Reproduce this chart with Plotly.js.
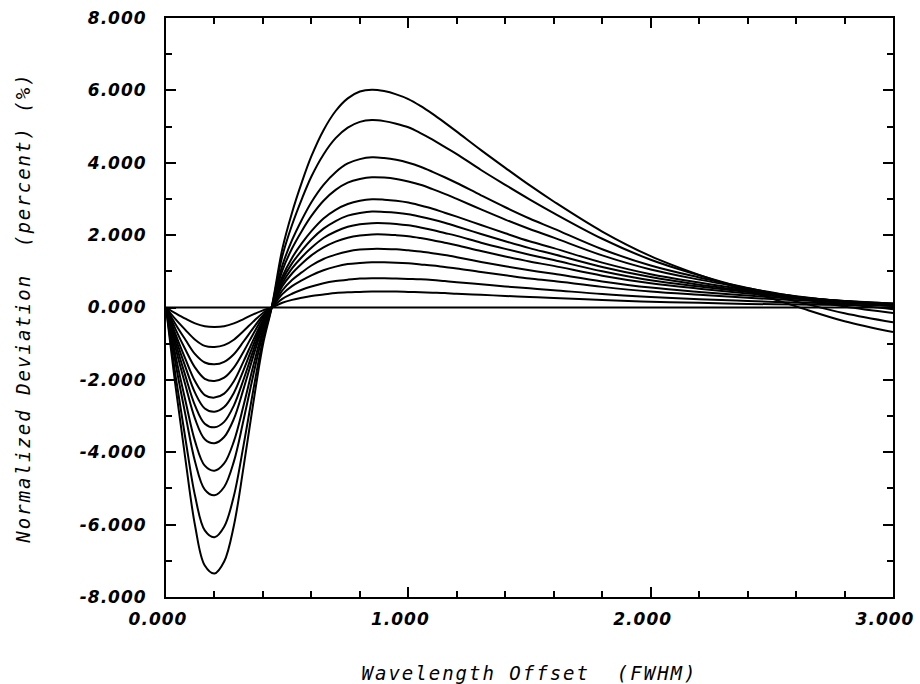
<!DOCTYPE html>
<html>
<head>
<meta charset="utf-8">
<script src="https://cdn.plot.ly/plotly-3.0.1.min.js"></script>
<style>
  html, body { margin: 0; padding: 0; background: #fff; }
  #chart { width: 920px; height: 684px; }
  .xtitle, .ytitle { letter-spacing: 2px; }
  .xtick text, .ytick text { letter-spacing: 1px; }
</style>
</head>
<body>
<div id="chart"></div>
<script>
// Wavelength offset sample positions (FWHM)
const xOffset = [0, 0.04, 0.08, 0.12, 0.16, 0.2, 0.24, 0.28, 0.32, 0.36, 0.40, 0.436,
  0.48, 0.52, 0.56, 0.60, 0.65, 0.70, 0.75, 0.80, 0.85, 0.90, 0.95, 1.0, 1.05, 1.1, 1.15, 1.2, 1.3, 1.4, 1.5, 1.6, 1.8, 2.0, 2.2, 2.4, 2.6, 2.8, 3.0];

// Normalized deviation (percent) for each curve
const curve0 = [0, 0, 0, 0, 0, 0, 0, 0, 0, 0, 0, 0,
  0, 0, 0, 0, 0, 0, 0, 0, 0, 0, 0, 0, 0, 0, 0, 0, 0, 0, 0, 0, 0, 0, 0, 0, 0, 0, 0];
const curve1 = [0, -2.21, -4.19, -6.03, -7.13, -7.35, -7.02, -6.03, -4.41, -2.65, -1.03, 0,
  1.62, 2.62, 3.45, 4.18, 4.90, 5.43, 5.78, 5.97, 6.02, 5.98, 5.89, 5.76, 5.57, 5.35, 5.11, 4.86, 4.35, 3.86, 3.38, 2.93, 2.10, 1.42, 0.90, 0.46, 0.03, -0.38, -0.68];
const curve2 = [0, -1.91, -3.62, -5.21, -6.16, -6.35, -6.06, -5.21, -3.81, -2.29, -0.89, 0,
  1.42, 2.28, 2.99, 3.62, 4.23, 4.68, 4.97, 5.13, 5.18, 5.15, 5.08, 4.98, 4.82, 4.64, 4.44, 4.24, 3.80, 3.39, 2.99, 2.61, 1.90, 1.32, 0.89, 0.51, 0.17, -0.16, -0.41];
const curve3 = [0, -1.56, -2.96, -4.26, -5.03, -5.19, -4.96, -4.26, -3.11, -1.87, -0.73, 0,
  1.16, 1.86, 2.42, 2.91, 3.39, 3.74, 3.98, 4.10, 4.15, 4.13, 4.08, 4.00, 3.89, 3.75, 3.60, 3.44, 3.10, 2.77, 2.46, 2.18, 1.61, 1.16, 0.83, 0.54, 0.27, 0.03, -0.15];
const curve4 = [0, -1.35, -2.57, -3.70, -4.37, -4.51, -4.31, -3.70, -2.71, -1.62, -0.63, 0,
  1.02, 1.63, 2.11, 2.53, 2.95, 3.25, 3.45, 3.55, 3.60, 3.59, 3.55, 3.48, 3.39, 3.27, 3.14, 3.00, 2.71, 2.43, 2.17, 1.93, 1.44, 1.05, 0.77, 0.53, 0.30, 0.10, -0.05];
const curve5 = [0, -1.13, -2.14, -3.08, -3.64, -3.75, -3.58, -3.08, -2.25, -1.35, -0.53, 0,
  0.85, 1.37, 1.77, 2.11, 2.46, 2.70, 2.86, 2.95, 2.99, 2.98, 2.95, 2.90, 2.82, 2.73, 2.62, 2.51, 2.28, 2.05, 1.83, 1.64, 1.24, 0.92, 0.69, 0.49, 0.31, 0.16, 0.04];
const curve6 = [0, -0.99, -1.89, -2.71, -3.21, -3.31, -3.16, -2.71, -1.99, -1.19, -0.46, 0,
  0.76, 1.22, 1.57, 1.88, 2.18, 2.39, 2.54, 2.61, 2.65, 2.64, 2.62, 2.58, 2.51, 2.43, 2.34, 2.24, 2.03, 1.83, 1.64, 1.47, 1.12, 0.84, 0.63, 0.46, 0.30, 0.17, 0.07];
const curve7 = [0, -0.86, -1.64, -2.36, -2.79, -2.88, -2.75, -2.36, -1.73, -1.04, -0.40, 0,
  0.67, 1.08, 1.39, 1.65, 1.92, 2.10, 2.23, 2.30, 2.33, 2.33, 2.31, 2.27, 2.21, 2.14, 2.06, 1.98, 1.79, 1.62, 1.46, 1.31, 1.00, 0.75, 0.58, 0.43, 0.29, 0.18, 0.09];
const curve8 = [0, -0.75, -1.42, -2.04, -2.42, -2.49, -2.38, -2.04, -1.49, -0.90, -0.35, 0,
  0.59, 0.94, 1.21, 1.44, 1.66, 1.82, 1.93, 1.99, 2.02, 2.02, 2.00, 1.97, 1.92, 1.86, 1.79, 1.72, 1.56, 1.41, 1.27, 1.15, 0.88, 0.67, 0.52, 0.39, 0.27, 0.18, 0.11];
const curve9 = [0, -0.61, -1.16, -1.66, -1.97, -2.03, -1.94, -1.66, -1.22, -0.73, -0.28, 0,
  0.47, 0.76, 0.97, 1.16, 1.34, 1.46, 1.55, 1.60, 1.62, 1.62, 1.61, 1.58, 1.55, 1.50, 1.45, 1.39, 1.26, 1.14, 1.03, 0.93, 0.72, 0.55, 0.43, 0.33, 0.24, 0.17, 0.11];
const curve10 = [0, -0.47, -0.89, -1.29, -1.52, -1.57, -1.50, -1.29, -0.94, -0.57, -0.22, 0,
  0.37, 0.59, 0.75, 0.89, 1.03, 1.13, 1.20, 1.23, 1.25, 1.25, 1.24, 1.22, 1.19, 1.16, 1.12, 1.08, 0.98, 0.89, 0.80, 0.73, 0.57, 0.44, 0.35, 0.27, 0.20, 0.15, 0.10];
const curve11 = [0, -0.33, -0.62, -0.89, -1.06, -1.09, -1.04, -0.89, -0.65, -0.39, -0.15, 0,
  0.24, 0.38, 0.49, 0.58, 0.67, 0.73, 0.77, 0.80, 0.81, 0.81, 0.80, 0.79, 0.78, 0.76, 0.73, 0.70, 0.64, 0.58, 0.53, 0.48, 0.37, 0.29, 0.23, 0.18, 0.14, 0.11, 0.08];
const curve12 = [0, -0.16, -0.31, -0.44, -0.52, -0.54, -0.52, -0.44, -0.32, -0.19, -0.08, 0,
  0.13, 0.21, 0.27, 0.32, 0.36, 0.40, 0.42, 0.43, 0.44, 0.44, 0.44, 0.43, 0.42, 0.41, 0.40, 0.38, 0.35, 0.32, 0.29, 0.26, 0.21, 0.16, 0.13, 0.10, 0.08, 0.07, 0.05];

const curves = [curve0, curve1, curve2, curve3, curve4, curve5, curve6, curve7, curve8, curve9, curve10, curve11, curve12];

// Tick labels
const xTickVals = [0, 1, 2, 3];
const xTickText = ['0.000', '1.000', '2.000', '3.000'];
const yTickVals = [-8, -6, -4, -2, 0, 2, 4, 6, 8];
const yTickText = ['-8.000', '-6.000', '-4.000', '-2.000', '0.000', '2.000', '4.000', '6.000', '8.000'];

const traces = curves.map(function (c) {
  return {
    x: xOffset,
    y: c,
    type: 'scatter',
    mode: 'lines',
    line: { color: '#000', width: 2, shape: 'spline', smoothing: 1 },
    hoverinfo: 'skip',
    showlegend: false
  };
});

const tickFont = { family: 'DejaVu Sans', size: 17, color: '#000', weight: 'bold', style: 'italic' };
const titleFont = { family: 'DejaVu Sans Mono', size: 19, color: '#000', style: 'italic' };

const layout = {
  width: 920,
  height: 684,
  paper_bgcolor: '#fff',
  plot_bgcolor: '#fff',
  margin: { l: 166, r: 27, t: 18, b: 87 },
  showlegend: false,
  xaxis: {
    range: [0, 3],
    tickvals: xTickVals,
    ticktext: xTickText,
    ticks: 'inside',
    ticklen: 10,
    tickwidth: 2,
    tickcolor: '#000',
    minor: { dtick: 0.2, tick0: 0, ticks: 'inside', ticklen: 6, tickwidth: 2, tickcolor: '#000', showgrid: false },
    showline: true,
    linewidth: 2,
    linecolor: '#000',
    mirror: 'ticks',
    showgrid: false,
    zeroline: false,
    tickfont: tickFont,
    ticklabelstandoff: 6,
    ticklabelshift: -8,
    title: { text: 'Wavelength Offset  (FWHM)', font: titleFont, standoff: 41 }
  },
  yaxis: {
    range: [-8, 8],
    tickvals: yTickVals,
    ticktext: yTickText,
    ticks: 'inside',
    ticklen: 10,
    tickwidth: 2,
    tickcolor: '#000',
    minor: { dtick: 1, tick0: 0, ticks: 'inside', ticklen: 6, tickwidth: 2, tickcolor: '#000', showgrid: false },
    showline: true,
    linewidth: 2,
    linecolor: '#000',
    mirror: 'ticks',
    showgrid: false,
    zeroline: false,
    tickfont: tickFont,
    ticklabelstandoff: 14,
    title: { text: 'Normalized Deviation  (percent) (%)\u00a0\u00a0', font: titleFont, standoff: 44 }
  }
};

Plotly.newPlot('chart', traces, layout, { staticPlot: true, displayModeBar: false });
</script>
</body>
</html>
